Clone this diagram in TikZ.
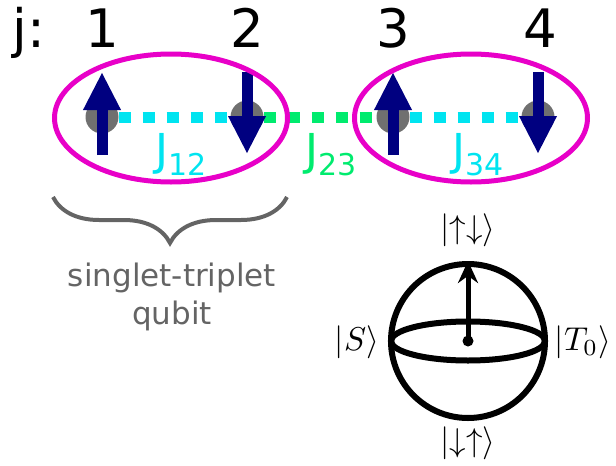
\documentclass[tikz,border=0pt]{standalone}
\usepackage{fontspec}
\setmainfont{DejaVu Sans}
\usetikzlibrary{
  arrows.meta,
  positioning,
  shapes.geometric,
  decorations.pathreplacing,
  calc
}
\definecolor{spin}{RGB}{0,0,128}
\definecolor{dotgray}{RGB}{112,112,112}
\definecolor{intra}{RGB}{0,228,240}
\definecolor{inter}{RGB}{0,235,110}
\definecolor{pairmag}{RGB}{232,0,200}
\definecolor{bracegray}{RGB}{100,100,100}
\newcommand{\bigket}[1]{\scalebox{3.3}{$#1$}}

\begin{document}
\begin{tikzpicture}[
  x=1pt, y=-1pt,
  site/.style={font=\fontsize{53}{60}\selectfont, anchor=base, inner sep=0pt},
  dot/.style={circle, fill=dotgray, minimum size=33pt, inner sep=0pt},
  spinarrow/.style={draw=spin, line width=11pt, -{Triangle[width=35pt,length=38pt]}},
  coupling/.style={line width=11pt, dash pattern=on 12pt off 12pt},
  pair/.style={ellipse, draw=pairmag, line width=5pt,
               minimum width=233pt, minimum height=128pt},
  jlabel/.style={font=\fontsize{44}{50}\selectfont, anchor=base, inner sep=0pt},
  ket/.style={inner sep=0pt},
  >=Stealth
]
\useasboundingbox (0,0) rectangle (616,466);

% dots and site indices
\node[dot] (s1) at (102,117) {};
\node[dot] (s2) at (247,117) {};
\node[dot] (s3) at (393,117) {};
\node[dot] (s4) at (538,117) {};

\node[site] (jlab) at (29,47) {j:};
\node[site] (n1) at (102,47) {1};
\node[site] (n2) at (247,47) {2};
\node[site] (n3) at (393,47) {3};
\node[site] (n4) at (540,47) {4};

\draw[coupling, intra] (s1) -- (s2);
\draw[coupling, inter] (s2) -- (s3);
\draw[coupling, intra] (s3) -- (s4);

\draw[spinarrow] ($(s1)+(0,38)$) -- ($(s1)+(0,-45)$);
\draw[spinarrow] ($(s2)+(0,-45)$) -- ($(s2)+(0,37)$);
\draw[spinarrow] ($(s3)+(0,38)$) -- ($(s3)+(0,-45)$);
\draw[spinarrow] ($(s4)+(0,-45)$) -- ($(s4)+(0,37)$);

\node[pair] (q12) at (171,118) {};
\node[pair] (q34) at (471,118) {};

\node[jlabel, text=intra] (j12) at (181,165) {J\raisebox{-10pt}{\fontsize{30}{30}\selectfont 12}};
\node[jlabel, text=inter] (j23) at (331,165) {J\raisebox{-10pt}{\fontsize{30}{30}\selectfont 23}};
\node[jlabel, text=intra] (j34) at (478,165) {J\raisebox{-10pt}{\fontsize{30}{30}\selectfont 34}};

% qubit brace
\draw[decorate, decoration={brace, amplitude=46pt}, line width=4pt, bracegray]
  (287,197) -- (53,197);
\node[font=\fontsize{31}{38}\selectfont, text=bracegray, align=center] (stq)
  at (172,297) {singlet-triplet\\qubit};

% Bloch sphere
\node[circle, draw, line width=6pt, minimum size=154pt, inner sep=0pt] (bloch) at (468,341) {};
\draw[line width=6pt] (bloch.center) ellipse [x radius=77pt, y radius=19.5pt];
\fill (bloch.center) circle [radius=5.5pt];
\draw[line width=5pt, -{Stealth[length=22pt,width=20pt]}] (bloch.center) -- (bloch.north);

\node[ket] (up) at (468,230) {\bigket{|{\uparrow\downarrow}\rangle}};
\node[ket] (down) at (468,443) {\bigket{|{\downarrow\uparrow}\rangle}};
\node[ket] (sing) at (357,342) {\bigket{|S\rangle}};
\node[ket] (trip) at (583,342) {\bigket{|T_0\rangle}};

\end{tikzpicture}
\end{document}
